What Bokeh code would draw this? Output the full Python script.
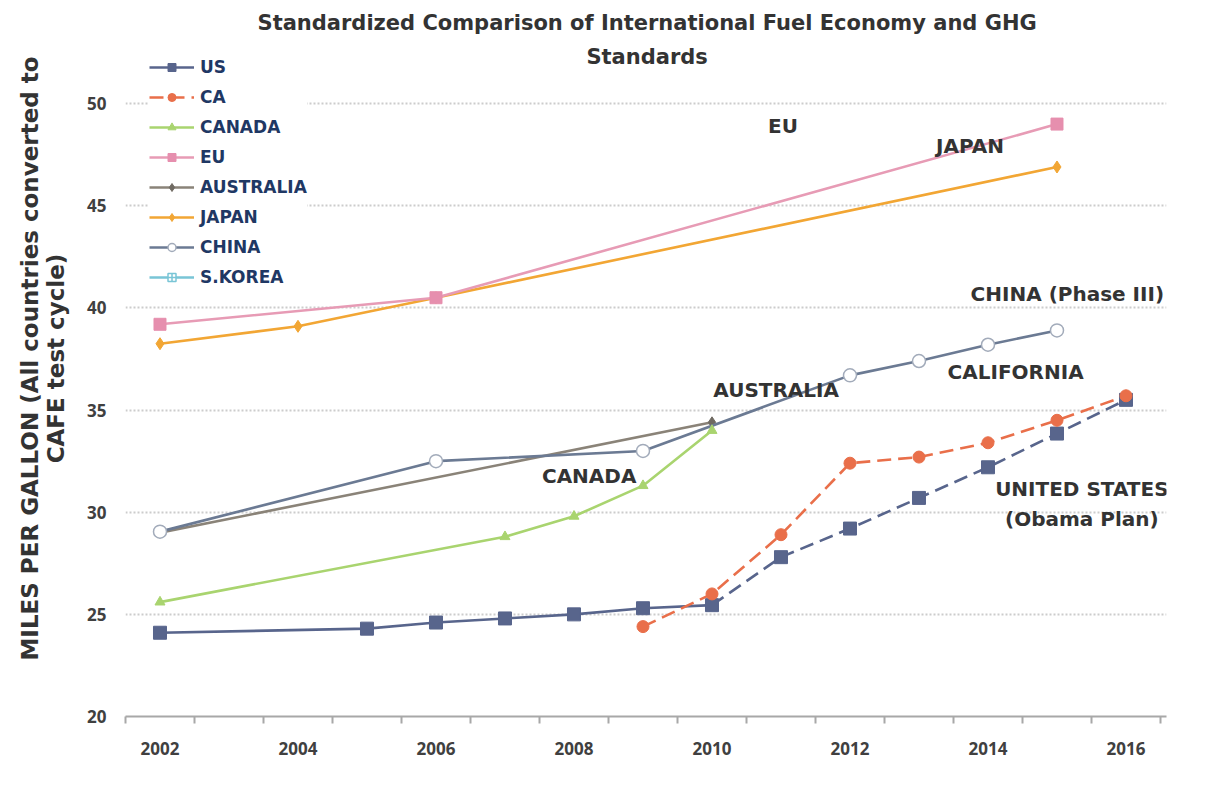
from bokeh.plotting import figure
from bokeh.models import Range1d, FixedTicker, Legend, LegendItem
from bokeh.core.properties import value
from bokeh.embed import file_html
from bokeh.resources import INLINE

# ---------------- data ----------------
us_years = [2002, 2005, 2006, 2007, 2008, 2009, 2010, 2011, 2012, 2013, 2014, 2015, 2016]
us_mpg = [24.1, 24.3, 24.6, 24.8, 25.0, 25.3, 25.45, 27.8, 29.2, 30.7, 32.2, 33.85, 35.5]

ca_years = [2009, 2010, 2011, 2012, 2013, 2014, 2015, 2016]
ca_mpg = [24.4, 26.0, 28.9, 32.4, 32.7, 33.4, 34.5, 35.7]

canada_years = [2002, 2007, 2008, 2009, 2010]
canada_mpg = [25.6, 28.8, 29.8, 31.3, 34.0]

eu_years = [2002, 2006, 2015]
eu_mpg = [39.2, 40.5, 49.0]

australia_years = [2002, 2010]
australia_mpg = [29.0, 34.4]

japan_years = [2002, 2004, 2006, 2015]
japan_mpg = [38.25, 39.1, 40.5, 46.9]

china_years = [2002, 2006, 2009, 2012, 2013, 2014, 2015]
china_mpg = [29.05, 32.5, 33.0, 36.7, 37.4, 38.2, 38.9]

# S.Korea appears only in the legend (no visible values)
skorea_years = [2002]
skorea_mpg = [float("nan")]

y_ticks = [20, 25, 30, 35, 40, 45, 50]
x_label_years = [2002, 2004, 2006, 2008, 2010, 2012, 2014, 2016]

title_lines = ["Standardized Comparison of International Fuel Economy and GHG", "Standards"]
title_x = [2009.06, 2009.06]
title_y = [53.97, 52.26]

note_text = ["EU", "JAPAN", "CHINA (Phase III)", "CALIFORNIA", "AUSTRALIA",
             "CANADA", "UNITED STATES", "(Obama Plan)"]
note_x = [2011.03, 2013.74, 2015.15, 2014.40, 2010.93, 2008.22, 2015.36, 2015.36]
note_y = [48.93, 47.92, 40.70, 36.84, 35.96, 31.77, 31.16, 29.69]

# ---------------- figure ----------------
FONT = "Open Sans"
WIDE = "DejaVu Sans"

p = figure(width=1194, height=780, output_backend="svg", toolbar_location=None,
           x_range=Range1d(2001.5, 2016.587), y_range=Range1d(20, 55.05),
           min_border_left=125, min_border_right=28, min_border_top=0, min_border_bottom=64)
p.outline_line_color = None
p.background_fill_color = "white"
p.border_fill_color = "white"

# grid
p.xgrid.grid_line_color = None
p.ygrid.ticker = FixedTicker(ticks=y_ticks[1:])
p.ygrid.grid_line_color = "#cccccc"
p.ygrid.grid_line_width = 2
p.ygrid.grid_line_dash = "2 2"

# y axis
p.yaxis.ticker = FixedTicker(ticks=y_ticks)
p.yaxis.axis_line_color = None
p.yaxis.major_tick_line_color = None
p.yaxis.minor_tick_line_color = None
p.yaxis.major_label_text_font = FONT
p.yaxis.major_label_text_font_style = "bold"
p.yaxis.major_label_text_font_size = "17px"
p.yaxis.major_label_text_color = "#404040"
p.yaxis.major_label_standoff = 13
p.yaxis.axis_label = "MILES PER GALLON (All countries converted to\nCAFE test cycle)"
p.yaxis.axis_label_text_font = WIDE
p.yaxis.axis_label_text_font_style = "bold"
p.yaxis.axis_label_text_font_size = "23px"
p.yaxis.axis_label_text_line_height = 1.0
p.yaxis.axis_label_text_color = "#333333"
p.yaxis.axis_label_standoff = 15

# x axis
p.xaxis.ticker = FixedTicker(ticks=x_label_years,
                             minor_ticks=[y - 0.5 for y in range(2002, 2018)])
p.xaxis.axis_line_color = "#a8a8a8"
p.xaxis.axis_line_width = 2
p.xaxis.major_tick_line_color = None
p.xaxis.major_tick_out = 0
p.xaxis.major_tick_in = 0
p.xaxis.minor_tick_line_color = "#a8a8a8"
p.xaxis.minor_tick_line_width = 2
p.xaxis.minor_tick_out = 7
p.xaxis.minor_tick_in = 0
p.xaxis.major_label_text_font = FONT
p.xaxis.major_label_text_font_style = "bold"
p.xaxis.major_label_text_font_size = "17px"
p.xaxis.major_label_text_color = "#404040"
p.xaxis.major_label_standoff = 18

# ---------------- series ----------------
US_C = "#58658c"
CA_C = "#e96f4a"
CAN_C = "#a9d46f"
EU_C = "#e79bb5"
AUS_C = "#8a8378"
JP_C = "#f2a634"
CN_C = "#6b7a93"
SK_C = "#79c5d6"
LW = 2.6
DASH = "14 7"

# Australia
r_aus_l = p.line(australia_years, australia_mpg, line_color=AUS_C, line_width=LW)
r_aus_m = p.scatter(australia_years, australia_mpg, marker="diamond", size=11,
                    fill_color="#6f6a62", line_color="#6f6a62")
# China
r_cn_l = p.line(china_years, china_mpg, line_color=CN_C, line_width=LW)
r_cn_m = p.scatter(china_years, china_mpg, marker="circle", size=13,
                   fill_color="white", line_color="#a2abba", line_width=1.5)
# Canada
r_can_l = p.line(canada_years, canada_mpg, line_color=CAN_C, line_width=LW)
r_can_m = p.scatter(canada_years, canada_mpg, marker="triangle", size=10,
                    fill_color=CAN_C, line_color=CAN_C)
# Japan
r_jp_l = p.line(japan_years, japan_mpg, line_color=JP_C, line_width=LW)
r_jp_m = p.scatter(japan_years, japan_mpg, marker="diamond", size=12,
                   fill_color=JP_C, line_color=JP_C)
# EU
r_eu_l = p.line(eu_years, eu_mpg, line_color=EU_C, line_width=LW)
r_eu_m = p.scatter(eu_years, eu_mpg, marker="square", size=12,
                   fill_color="#e68fae", line_color="#e68fae")
# US (solid to 2010, dashed after)
i10 = us_years.index(2010)
r_us_l = p.line(us_years[:i10 + 1], us_mpg[:i10 + 1], line_color=US_C, line_width=LW)
r_us_d = p.line(us_years[i10:], us_mpg[i10:], line_color=US_C, line_width=LW, line_dash=DASH)
r_us_m = p.scatter(us_years, us_mpg, marker="square", size=13,
                   fill_color=US_C, line_color=US_C)
# CA
r_ca_l = p.line(ca_years, ca_mpg, line_color=CA_C, line_width=LW, line_dash=DASH)
r_ca_m = p.scatter(ca_years, ca_mpg, marker="circle", size=12,
                   fill_color=CA_C, line_color=CA_C)
# S.Korea (legend only)
r_sk_l = p.line(skorea_years, skorea_mpg, line_color=SK_C, line_width=LW)
r_sk_m = p.scatter(skorea_years, skorea_mpg, marker="square_cross", size=11,
                   fill_color="white", line_color=SK_C, line_width=1.5)

# title (two lines)
p.text(title_x, title_y, text=title_lines, text_align="center", text_baseline="middle",
       text_font=value(WIDE), text_font_style="bold", text_font_size="21px",
       text_color="#333333")

# annotations
p.text(note_x, note_y, text=note_text, text_align="center", text_baseline="middle",
       text_font=value(WIDE), text_font_style="bold", text_font_size="20px",
       text_color="#333333")

# legend
legend = Legend(items=[
    LegendItem(label="US", renderers=[r_us_l, r_us_m]),
    LegendItem(label="CA", renderers=[r_ca_l, r_ca_m]),
    LegendItem(label="CANADA", renderers=[r_can_l, r_can_m]),
    LegendItem(label="EU", renderers=[r_eu_l, r_eu_m]),
    LegendItem(label="AUSTRALIA", renderers=[r_aus_l, r_aus_m]),
    LegendItem(label="JAPAN", renderers=[r_jp_l, r_jp_m]),
    LegendItem(label="CHINA", renderers=[r_cn_l, r_cn_m]),
    LegendItem(label="S.KOREA", renderers=[r_sk_l, r_sk_m]),
], location=(24, 429))
legend.glyph_width = 45
legend.glyph_height = 20
legend.label_height = 20
legend.spacing = 10
legend.padding = 10
legend.margin = 0
legend.label_standoff = 6
legend.label_text_font = WIDE
legend.label_text_font_style = "bold"
legend.label_text_font_size = "17px"
legend.label_text_color = "#1f3864"
legend.border_line_color = None
legend.background_fill_color = "white"
legend.background_fill_alpha = 1
p.add_layout(legend)

open("out.html", "w").write(file_html(p, INLINE))
